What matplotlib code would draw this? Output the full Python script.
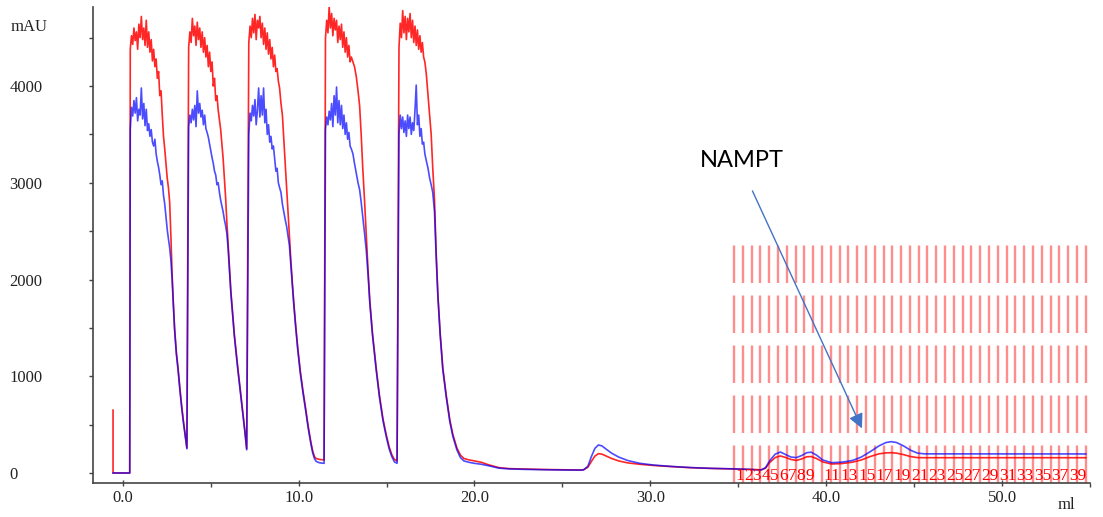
import numpy as np
from matplotlib import pyplot as plt
from matplotlib.ticker import MultipleLocator

plt.rcParams['lines.scale_dashes'] = False

# chromatogram: volume (ml), UV red trace, UV blue trace (mAU)
p1_ml = [-0.55, -0.55, 0.40, 0.43, 0.50, 0.57, 0.64, 0.71, 0.78, 0.85, 0.92, 0.99, 1.06, 1.13, 1.20, 1.27,
         1.34, 1.41, 1.48, 1.55, 1.62, 1.69, 1.76, 1.83, 1.90, 1.97, 2.04, 2.11, 2.18, 2.25, 2.32, 2.39,
         2.46, 2.53, 2.60, 2.67, 2.74, 2.81, 2.88, 2.95, 3.05, 3.15, 3.25, 3.35, 3.45, 3.55, 3.65]
p1_red = [650, 0, 0, 4380, 4520, 4430, 4600, 4470, 4560, 4380, 4640, 4500, 4720, 4480, 4600, 4420,
          4680, 4400, 4560, 4350, 4480, 4260, 4380, 4200, 4280, 4080, 4150, 3900, 3950, 3700, 3480, 3350,
          3200, 3050, 2950, 2800, 2450, 2050, 1750, 1500, 1250, 1080, 880, 700, 540, 400, 260]
p1_blue = [0, 0, 0, 3550, 3780, 3690, 3850, 3720, 3880, 3640, 3760, 3700, 3980, 3660, 3820, 3590,
           3760, 3540, 3610, 3480, 3550, 3420, 3380, 3450, 3300, 3220, 3160, 3080, 2980, 3020, 2870, 2780,
           2650, 2520, 2420, 2330, 2200, 2000, 1730, 1480, 1230, 1060, 860, 680, 525, 385, 250]

p2_ml = [3.75, 3.82, 3.89, 3.96, 4.03, 4.10, 4.17, 4.24, 4.31, 4.38, 4.45, 4.52, 4.59, 4.66, 4.73, 4.80,
         4.87, 4.94, 5.01, 5.08, 5.15, 5.22, 5.29, 5.36, 5.43, 5.50, 5.57, 5.64, 5.71, 5.78, 5.85, 5.92,
         5.99, 6.06, 6.15, 6.25, 6.35, 6.45, 6.55, 6.65, 6.75, 6.85, 6.95, 7.05]
p2_red = [4400, 4560, 4450, 4700, 4520, 4620, 4420, 4660, 4480, 4600, 4400, 4560, 4350, 4500, 4300, 4420,
          4200, 4350, 4150, 4250, 4000, 4080, 3850, 3900, 3750, 3650, 3550, 3400, 3250, 3050, 2850, 2600,
          2380, 2150, 1880, 1650, 1430, 1250, 1080, 920, 760, 600, 430, 250]
p2_blue = [3580, 3700, 3620, 3760, 3650, 3800, 3580, 3950, 3720, 3820, 3680, 3750, 3600, 3700, 3560, 3520,
           3470, 3400, 3330, 3260, 3200, 3120, 3080, 2980, 3000, 2900, 2820, 2760, 2700, 2620, 2560, 2480,
           2330, 2120, 1860, 1630, 1410, 1230, 1060, 900, 745, 585, 420, 240]

p3_ml = [7.17, 7.24, 7.31, 7.38, 7.45, 7.52, 7.59, 7.66, 7.73, 7.80, 7.87, 7.94, 8.01, 8.08, 8.15, 8.22,
         8.29, 8.36, 8.43, 8.50, 8.57, 8.64, 8.71, 8.78, 8.85, 8.92, 9.00, 9.08, 9.16, 9.24, 9.32, 9.40,
         9.48, 9.56, 9.64, 9.72, 9.82, 9.95, 10.10, 10.25, 10.40, 10.55, 10.70, 10.80, 10.90, 11.00, 11.20, 11.45]
p3_red = [4450, 4620, 4500, 4700, 4550, 4740, 4480, 4680, 4600, 4720, 4500, 4650, 4430, 4600, 4380, 4550,
          4330, 4480, 4280, 4400, 4200, 4320, 4150, 4180, 4050, 3980, 3820, 3700, 3450, 3200, 2950, 2700,
          2450, 2200, 1980, 1780, 1560, 1300, 1050, 850, 670, 480, 320, 230, 170, 150, 140, 135]
p3_blue = [3500, 3720, 3640, 3800, 3690, 3860, 3600, 3750, 3980, 3680, 3900, 3700, 3980, 3620, 3760, 3500,
           3600, 3420, 3480, 3350, 3380, 3250, 3120, 3150, 3000, 2950, 2900, 2780, 2700, 2620, 2550, 2450,
           2350, 2150, 1950, 1760, 1540, 1280, 1030, 830, 650, 460, 300, 210, 150, 120, 105, 100]

p4_ml = [11.53, 11.60, 11.67, 11.74, 11.81, 11.88, 11.95, 12.02, 12.09, 12.16, 12.23, 12.30, 12.37, 12.44,
         12.51, 12.58, 12.65, 12.72, 12.79, 12.86, 12.93, 13.00, 13.09, 13.18, 13.28, 13.38, 13.47, 13.56,
         13.65, 13.75, 13.85, 13.95, 14.05, 14.20, 14.41, 14.60, 14.80, 14.98, 15.15, 15.30, 15.45, 15.60]
p4_red = [4500, 4680, 4550, 4820, 4600, 4750, 4520, 4700, 4580, 4680, 4450, 4620, 4480, 4640,
          4400, 4560, 4350, 4500, 4300, 4420, 4250, 4300, 4250, 4200, 4100, 3950, 3800, 3500,
          3150, 2820, 2450, 2100, 1780, 1450, 1090, 800, 560, 400, 270, 190, 140, 125]
p4_blue = [3550, 3680, 3600, 3740, 3650, 3820, 3580, 3900, 3700, 3990, 3620, 3850, 3600, 3800,
           3560, 3700, 3500, 3620, 3450, 3520, 3380, 3350, 3300, 3200, 3100, 3000, 2930, 2800,
           2650, 2480, 2300, 2050, 1760, 1430, 1070, 780, 540, 380, 250, 170, 115, 100]

p5_ml = [15.71, 15.78, 15.85, 15.92, 15.99, 16.06, 16.13, 16.20, 16.27, 16.34, 16.41, 16.48, 16.55, 16.62,
         16.69, 16.76, 16.83, 16.90, 16.97, 17.04, 17.11, 17.18, 17.26, 17.36, 17.45, 17.54, 17.63, 17.73,
         17.82, 17.92, 18.05, 18.20, 18.40, 18.60, 18.77, 19.00, 19.20, 19.40, 19.70, 20.00, 20.40, 20.80,
         21.40, 22.00, 23.00, 24.00, 25.00, 26.00]
p5_red = [4400, 4650, 4500, 4780, 4550, 4720, 4480, 4700, 4560, 4750, 4500, 4680, 4450, 4620,
          4420, 4580, 4380, 4520, 4350, 4450, 4300, 4250, 4130, 3900, 3700, 3500, 3150, 2820,
          2300, 1850, 1450, 1090, 800, 550, 400, 260, 185, 150, 135, 125, 110, 85,
          55, 45, 40, 36, 33, 31]
p5_blue = [3500, 3700, 3560, 3680, 3520, 3640, 3480, 3700, 3560, 3680, 3500, 3620, 3540, 3750,
           4010, 3600, 3700, 3480, 3560, 3400, 3420, 3300, 3230, 3150, 3050, 2980, 2900, 2700,
           2250, 1830, 1430, 1070, 780, 530, 380, 240, 160, 125, 110, 100, 90, 75,
           50, 42, 37, 34, 31, 30]

tail_ml = [26.20, 26.45, 26.65, 26.85, 27.05, 27.25, 27.50, 27.80, 28.20, 28.70, 29.40, 30.20, 31.20, 32.30,
           33.50, 34.70, 35.60, 36.30, 36.55, 36.80, 37.10, 37.40, 37.70, 38.00, 38.30, 38.60, 38.90, 39.15,
           39.45, 39.80, 40.30, 40.90, 41.50, 42.00, 42.50, 43.00, 43.40, 43.70, 44.00, 44.40, 44.80, 45.20,
           45.60, 50.00, 54.77]
tail_red = [33, 60, 120, 175, 200, 195, 175, 150, 125, 105, 90, 78, 66, 55,
            47, 42, 37, 33, 50, 110, 160, 176, 160, 140, 130, 145, 168, 170,
            150, 115, 93, 98, 112, 135, 170, 198, 208, 210, 205, 190, 170, 159,
            158, 158, 158]
tail_blue = [32, 70, 170, 255, 290, 280, 245, 205, 165, 130, 100, 82, 68, 56,
             48, 43, 38, 31, 55, 130, 195, 217, 190, 165, 159, 180, 210, 215,
             185, 135, 107, 112, 130, 165, 220, 280, 315, 324, 315, 280, 235, 205,
             198, 197, 197]

# fractions (0.5 ml each) and the numbers printed under them
frac_edges = [34.76, 35.26, 35.76, 36.26, 36.76, 37.26, 37.76, 38.26, 38.76, 39.26, 39.76, 40.26, 40.76,
              41.26, 41.76, 42.26, 42.76, 43.26, 43.76, 44.26, 44.76, 45.26, 45.76, 46.26, 46.76, 47.26,
              47.76, 48.26, 48.76, 49.26, 49.76, 50.26, 50.76, 51.26, 51.76, 52.26, 52.76, 53.26, 53.76,
              54.26, 54.76]
frac_labels = ['1', '2', '3', '4', '5', '6', '7', '8', '9', '', '11', '', '13', '', '15', '', '17', '',
               '19', '', '21', '', '23', '', '25', '', '27', '', '29', '', '31', '', '33', '', '35', '',
               '37', '', '39', '']

ml = p1_ml + p2_ml + p3_ml + p4_ml + p5_ml + tail_ml
red = p1_red + p2_red + p3_red + p4_red + p5_red + tail_red
blue = p1_blue + p2_blue + p3_blue + p4_blue + p5_blue + tail_blue
assert len(ml) == len(red) == len(blue)

fig = plt.figure(figsize=(11.03, 5.17), dpi=100)
ax = fig.add_axes([0.0843, 0.0648, 0.9039, 0.9222])

serif = 'Liberation Serif'

# fraction marks
ax.vlines(frac_edges, -108.5, 2357, colors='#ff3030', alpha=0.55, linewidth=1.7,
          linestyles=(0, (27, 9)), zorder=1)
for x0, lab in zip(frac_edges[:-1], frac_labels):
    if lab:
        ax.text(x0 + 0.06, -72, lab, color='red', fontsize=12.5, family=serif,
                ha='left', va='baseline', zorder=4)

ax.plot(ml, red, color='#ff0000', lw=1.2, alpha=0.85, zorder=3)
ax.plot(ml, blue, color='#0000ff', lw=1.2, alpha=0.7, zorder=3)

ax.set_xlim(-1.69, 55.0)
ax.set_ylim(-108.5, 4820)

for s in ['top', 'right']:
    ax.spines[s].set_visible(False)
for s in ['left', 'bottom']:
    ax.spines[s].set_color('#444444')
    ax.spines[s].set_linewidth(1.2)

ax.xaxis.set_major_locator(MultipleLocator(10))
ax.xaxis.set_minor_locator(MultipleLocator(5))
ax.yaxis.set_major_locator(MultipleLocator(1000))
ax.yaxis.set_minor_locator(MultipleLocator(500))
ax.xaxis.set_major_formatter('{x:.1f}')
ax.yaxis.set_major_formatter('{x:.0f}')
ax.tick_params(axis='x', which='major', length=4, width=1, color='#444444', pad=3,
               labelsize=12, direction='inout')
ax.tick_params(axis='x', which='minor', length=3, width=1, color='#444444')
ax.tick_params(axis='y', which='major', length=3, width=1, color='#444444', pad=57, labelsize=12)
ax.tick_params(axis='y', which='minor', length=3, width=1, color='#444444')
for t in ax.get_xticklabels() + ax.get_yticklabels():
    t.set_family(serif)
    t.set_color('#222222')
for t in ax.get_yticklabels():
    t.set_ha('left')

fig.text(11 / 1103, 1 - 27 / 517, 'mAU', family=serif, fontsize=12, color='#222222',
         ha='left', va='center')
fig.text(1066 / 1103, 1 - 505 / 517, 'ml', family=serif, fontsize=12, color='#222222',
         ha='center', va='center')

ax.text(35.2, 3235, 'NAMPT', family='Lato', fontsize=17, color='black', ha='center', va='center')
ax.annotate('', xy=(42.1, 435), xytext=(35.74, 2942),
            arrowprops=dict(arrowstyle='-|>', color='#4472C4', lw=1, mutation_scale=22))

plt.savefig('out.png', dpi=100)
